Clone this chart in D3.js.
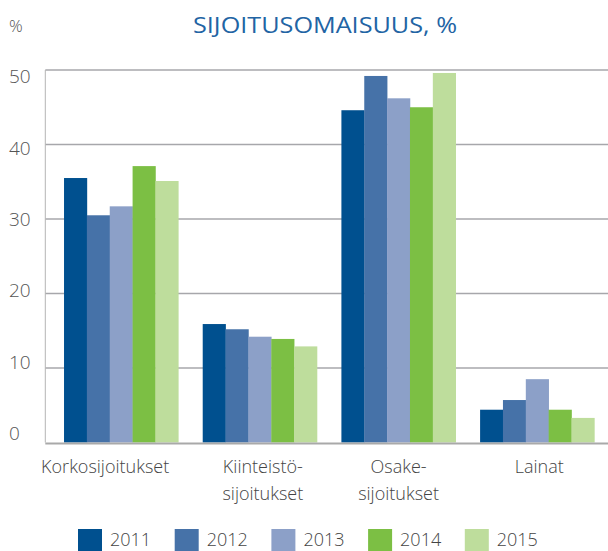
<!DOCTYPE html>
<html>
<head>
<meta charset="utf-8">
<script src="https://cdn.jsdelivr.net/npm/d3@7"></script>
<style>
  html, body { margin: 0; padding: 0; background: #fff; }
  svg { display: block; }
</style>
</head>
<body>
<div id="chart"></div>
<script>
const categories = [["Korkosijoitukset"], ["Kiinteistö-", "sijoitukset"], ["Osake-", "sijoitukset"], ["Lainat"]];
const categoryKeys = ["Korkosijoitukset", "Kiinteistösijoitukset", "Osakesijoitukset", "Lainat"];
const years = ["2011", "2012", "2013", "2014", "2015"];
const values2011 = [35.5, 15.9, 44.6, 4.4];
const values2012 = [30.5, 15.2, 49.2, 5.7];
const values2013 = [31.7, 14.2, 46.2, 8.5];
const values2014 = [37.1, 13.9, 45.0, 4.4];
const values2015 = [35.1, 12.9, 49.6, 3.3];
const seriesValues = [values2011, values2012, values2013, values2014, values2015];
const yTicks = [0, 10, 20, 30, 40, 50];
const colors = ["#00508f", "#4672a8", "#8ca0c8", "#7cbf44", "#bedd9c"];

(function () {
const W = 608, H = 551;
const svg = d3.select("#chart").append("svg").attr("width", W).attr("height", H);

const pLeft = 45.3, pRight = 608, pTop = 70, pBottom = 442.5;
const y = d3.scaleLinear().domain([0, 50]).range([pBottom, pTop]);
const yLabel = d3.scaleLinear().domain([0, 50]).range([433.5, 76.5]);
const x0 = d3.scaleBand().domain(categoryKeys).range([pLeft, 613.1]).paddingInner(0.176).paddingOuter(0.135);
const x1 = d3.scaleBand().domain(years).range([0, x0.bandwidth()]);
const color = d3.scaleOrdinal().domain(years).range(colors);

// gridlines
svg.append("g").selectAll("line").data(yTicks.filter(d => d > 0)).join("line")
  .attr("x1", pLeft).attr("x2", pRight)
  .attr("y1", d => y(d)).attr("y2", d => y(d))
  .attr("stroke", "#a7a7ab").attr("stroke-width", 1.6);

// left border
svg.append("line").attr("x1", pLeft).attr("x2", pLeft).attr("y1", pTop).attr("y2", pBottom)
  .attr("stroke", "#b5b5b5").attr("stroke-width", 1);

// bars
const groups = svg.append("g").selectAll("g").data(categoryKeys).join("g")
  .attr("transform", d => `translate(${x0(d)},0)`);
groups.selectAll("rect").data((d, i) => years.map((yr, j) => ({ yr, v: seriesValues[j][i] }))).join("rect")
  .attr("x", d => x1(d.yr)).attr("width", x1.bandwidth() + 0.3)
  .attr("y", d => y(d.v)).attr("height", d => y(0) - y(d.v))
  .attr("fill", d => color(d.yr));

// bottom axis line
svg.append("line").attr("x1", pLeft).attr("x2", pRight).attr("y1", pBottom + 1).attr("y2", pBottom + 1)
  .attr("stroke", "#a9a9a9").attr("stroke-width", 2);

// y tick labels
svg.append("g").selectAll("text").data(yTicks).join("text")
  .attr("x", 9).attr("y", d => yLabel(d)).attr("dy", "0.35em")
  .attr("font-family", "Open Sans").attr("font-size", 19).attr("font-weight", 300)
  .attr("fill", "#555").text(d => d);

// unit
svg.append("text").attr("x", 9).attr("y", 32).attr("font-family", "Open Sans")
  .attr("font-size", 17).attr("font-weight", 300).attr("fill", "#555").text("%");

// title
svg.append("text").attr("x", 193).attr("y", 33).attr("font-family", "Open Sans")
  .attr("font-size", 22).attr("font-weight", 500).attr("fill", "#2264a4")
  .attr("textLength", 264).attr("lengthAdjust", "spacingAndGlyphs")
  .text("SIJOITUSOMAISUUS, %");

// category labels
const catOffsets = [-16, 3, 0, 2];
const catG = svg.append("g").selectAll("text").data(categoryKeys).join("text")
  .attr("text-anchor", "middle")
  .attr("font-family", "Open Sans").attr("font-size", 18).attr("font-weight", 300)
  .attr("fill", "#444");
catG.each(function(d, i) {
  const t = d3.select(this);
  categories[i].forEach((line, k) => {
    t.append("tspan").attr("x", x0(d) + x0.bandwidth() / 2 + catOffsets[i])
      .attr("y", 473 + k * 27).text(line);
  });
});

// legend
const legend = svg.append("g").selectAll("g").data(years).join("g")
  .attr("transform", (d, i) => `translate(${78 + i * 96.7},529)`);
legend.append("rect").attr("width", 24).attr("height", 22).attr("fill", d => color(d));
legend.append("text").attr("x", 32).attr("y", 16.5)
  .attr("font-family", "Open Sans").attr("font-size", 18).attr("font-weight", 300)
  .attr("fill", "#444").text(d => d);
})();
</script>
</body>
</html>
